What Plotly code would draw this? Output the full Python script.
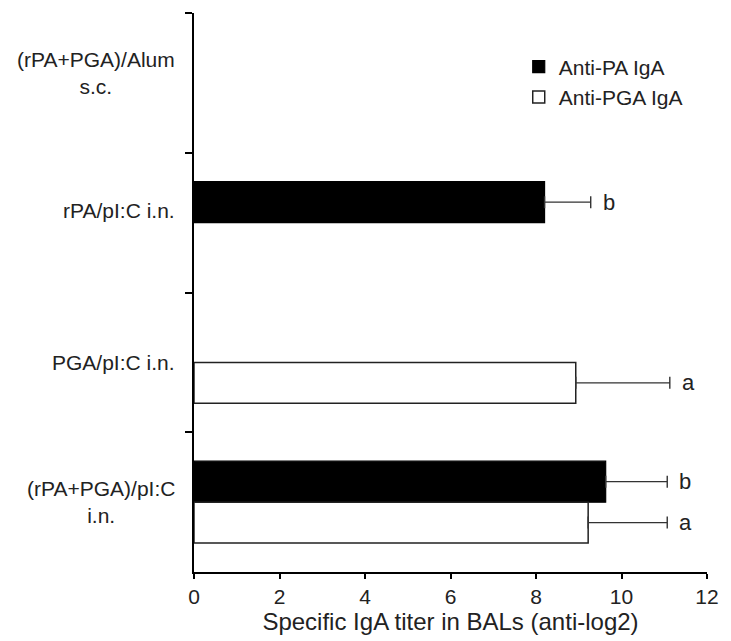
import plotly.graph_objects as go

categories = ["(rPA+PGA)/Alum<br>s.c.", "rPA/pI:C i.n.", "PGA/pI:C i.n.", "(rPA+PGA)/pI:C<br>i.n."]
series_names = ["Anti-PA IgA", "Anti-PGA IgA"]
pa_values = [None, 8.2, None, 9.63]
pa_errors = [None, 1.08, None, 1.44]
pa_letters = [None, "b", None, "b"]
pga_values = [None, None, 8.93, 9.22]
pga_errors = [None, None, 2.2, 1.85]
pga_letters = [None, None, "a", "a"]
x_ticks = [0, 2, 4, 6, 8, 10, 12]
x_title = "Specific IgA titer in BALs (anti-log2)"

FONT = "Liberation Sans, Arial, sans-serif"
TXT = "#222222"
BARGAP = 0.414
label_yshift = [10, 12, 0, 0]

def zero(v):
    return [0 if x is not None else None for x in v]

fig = go.Figure()
fig.add_trace(go.Bar(
    name=series_names[0], y=categories, x=pa_values, orientation="h",
    marker=dict(color="black", line=dict(color="black", width=1.2)),
    error_x=dict(type="data", symmetric=False, array=pa_errors, arrayminus=zero(pa_errors),
                 color="#333333", thickness=1.4, width=6),
))
fig.add_trace(go.Bar(
    name=series_names[1], y=categories, x=pga_values, orientation="h",
    marker=dict(color="white", line=dict(color="#222222", width=1.5)),
    error_x=dict(type="data", symmetric=False, array=pga_errors, arrayminus=zero(pga_errors),
                 color="#333333", thickness=1.4, width=6),
))

half = (1 - BARGAP) / 4
annotations = []
for i, cat in enumerate(categories):
    for vals, errs, lets, off in ((pa_values, pa_errors, pa_letters, -half),
                                  (pga_values, pga_errors, pga_letters, half)):
        if vals[i] is not None and lets[i]:
            annotations.append(dict(x=vals[i] + errs[i], y=i + off, xref="x", yref="y",
                                    text=lets[i], showarrow=False, xanchor="left", xshift=10,
                                    font=dict(family=FONT, size=22, color=TXT)))
    annotations.append(dict(x=-0.033, xref="paper", y=i, yref="y", text=cat, showarrow=False,
                            xanchor="right", align="center", yshift=label_yshift[i],
                            font=dict(family=FONT, size=21, color=TXT)))

fig.update_layout(
    width=731, height=641,
    margin=dict(l=194, r=14, t=13, b=67),
    paper_bgcolor="white", plot_bgcolor="white",
    barmode="group", bargap=BARGAP, bargroupgap=0,
    showlegend=True,
    legend=dict(x=0.633, y=0.94, xanchor="left", yanchor="top", bgcolor="rgba(0,0,0,0)",
                font=dict(family=FONT, size=21, color=TXT), traceorder="normal"),
    annotations=annotations,
    xaxis=dict(range=[0, 12], tickvals=x_ticks, showgrid=False, zeroline=False,
               showline=True, linecolor="black", linewidth=1.5,
               ticks="outside", ticklen=5, tickwidth=1.5, tickcolor="black",
               tickfont=dict(family=FONT, size=21, color=TXT),
               title=dict(text=x_title, font=dict(family=FONT, size=24, color=TXT), standoff=4)),
    yaxis=dict(type="category", categoryorder="array", categoryarray=categories,
               range=[3.5, -0.5], showgrid=False, zeroline=False,
               showline=True, linecolor="black", linewidth=1.5,
               ticks="outside", ticklen=7, tickwidth=1.5, tickcolor="black",
               tickson="boundaries", showticklabels=False),
)

fig.write_html("out.html")
